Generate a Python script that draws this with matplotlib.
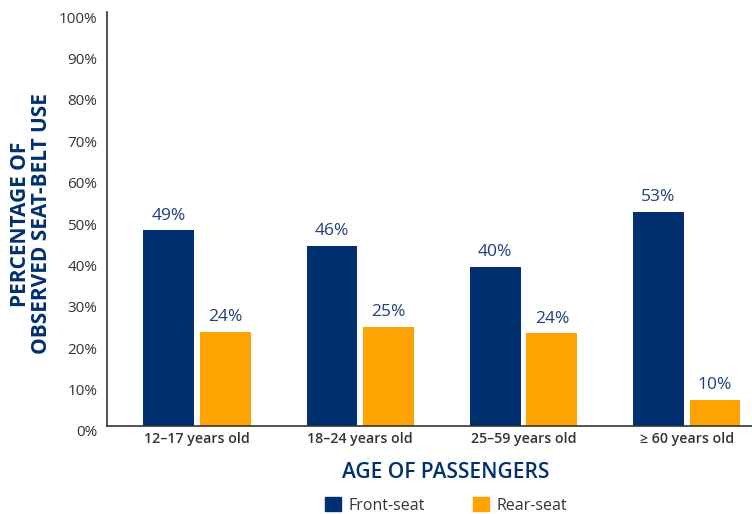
import matplotlib
matplotlib.use("Agg")
import matplotlib.pyplot as plt
import matplotlib.transforms as mtransforms
import numpy as np
from matplotlib.patches import Patch

# data
groups = ["12–17 years old", "18–24 years old", "25–59 years old", "≥ 60 years old"]
front = [47.3, 43.5, 38.4, 51.8]       # bar heights as drawn
rear = [22.7, 23.9, 22.4, 6.3]
front_labels = ["49%", "46%", "40%", "53%"]  # printed values
rear_labels = ["24%", "25%", "24%", "10%"]

NAVY = "#00306f"
ORANGE = "#ffa300"
LABEL_NAVY = "#1f3f7d"
GREY = "#333333"

plt.rcParams['font.family'] = ['Open Sans', 'DejaVu Sans']

fig = plt.figure(figsize=(7.52, 5.14), dpi=100)
ax = fig.add_axes([107 / 752, 1 - 426 / 514, 1 - 107 / 752, (426 - 12) / 514])

x = np.arange(len(groups))
w = 0.312
off = 0.1735
b1 = ax.bar(x - off, front, w, color=NAVY)
b2 = ax.bar(x + off, rear, w, color=ORANGE)

for bars, labels in ((b1, front_labels), (b2, rear_labels)):
    for r, t in zip(bars, labels):
        ax.annotate(t, (r.get_x() + r.get_width() / 2, r.get_height()),
                    xytext=(0, 10.5), textcoords="offset points",
                    ha="center", va="center", fontsize=12.5, color=LABEL_NAVY)

ax.set_xlim(-0.552, 3.40)
ax.set_ylim(0, 100)
ax.set_yticks(np.arange(0, 101, 10))
ax.set_yticklabels([f"{v}%" for v in range(0, 101, 10)], fontsize=11, color=GREY)
ax.set_xticks(x)
ax.set_xticklabels(groups, fontsize=10.2, fontweight="semibold", color=GREY)
ax.tick_params(axis="y", length=0, pad=7)
ax.tick_params(axis="x", length=0, pad=4)

# y tick labels sit a few pixels below their gridline in the reference
shift = mtransforms.ScaledTranslation(0, -0.05, fig.dpi_scale_trans)
for lab in ax.get_yticklabels():
    lab.set_transform(lab.get_transform() + shift)

for s in ("top", "right"):
    ax.spines[s].set_visible(False)
for s in ("left", "bottom"):
    ax.spines[s].set_color("#333333")
    ax.spines[s].set_linewidth(1.2)

fig.text(446 / 752, 1 - 472 / 514, "AGE OF PASSENGERS", ha="center", va="center",
         fontsize=15, fontweight="semibold", color=NAVY)
fig.text(31 / 752, 1 - 224 / 514, "PERCENTAGE OF\nOBSERVED SEAT-BELT USE",
         rotation=90, ha="center", va="center", multialignment="center",
         fontsize=15, fontweight="bold", color=NAVY, linespacing=0.95)

handles = [Patch(color=NAVY, label="Front-seat"), Patch(color=ORANGE, label="Rear-seat")]
leg = fig.legend(handles=handles, loc="center", bbox_to_anchor=(446 / 752, 1 - 505.5 / 514),
                 ncol=2, frameon=False, fontsize=11.5, handlelength=1.0, handleheight=1.0,
                 handletextpad=0.5, columnspacing=3.0, borderpad=0.2)
for t in leg.get_texts():
    t.set_color(GREY)

fig.savefig("out.png", dpi=100)
